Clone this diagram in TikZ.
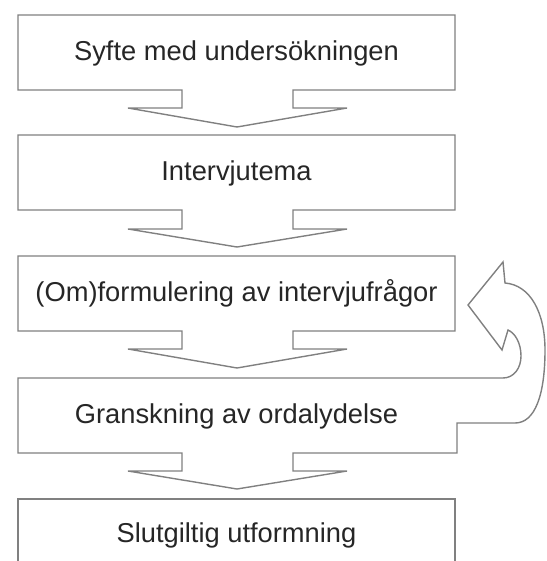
\documentclass[tikz,border=0pt]{standalone}
\usepackage{fontspec}
\setmainfont{Liberation Sans}
\tikzset{
  outline/.style={draw=black!50, line width=1.4pt, line join=miter},
  label/.style={anchor=base, inner sep=0pt, text=black!85, font=\fontsize{27.3}{32}\selectfont},
}
\begin{document}
\begin{tikzpicture}[x=1pt,y=-1pt]
\useasboundingbox (0,0) rectangle (546,561);
% box 1 with down arrow
\draw[outline] (18,15) -- (455,15) -- (455,90) -- (293,90) -- (293,108) -- (347,108)
  -- (237,127) -- (128,108) -- (182,108) -- (182,90) -- (18,90) -- cycle;
% box 2
\draw[outline] (18,135) -- (455,135) -- (455,210) -- (293,210) -- (293,229) -- (347,229)
  -- (237,247) -- (128,229) -- (182,229) -- (182,210) -- (18,210) -- cycle;
% box 3
\draw[outline] (18,256) -- (455,256) -- (455,331) -- (293,331) -- (293,349) -- (347,349)
  -- (237,368) -- (128,349) -- (182,349) -- (182,331) -- (18,331) -- cycle;
% box 4 with U-turn arrow and down arrow
\draw[outline] (18,378) -- (503,378)
  .. controls (514,378) and (521,368) .. (521,356)
  .. controls (521,343) and (515,333) .. (508,330)
  -- (502,350) -- (468,305) -- (503,262) -- (505,283)
  .. controls (530,285) and (545,312) .. (545,350)
  .. controls (545,395) and (535,423) .. (515,423)
  -- (457,423) -- (457,453) -- (293,453) -- (293,471) -- (347,471)
  -- (237,489) -- (128,471) -- (182,471) -- (182,453) -- (18,453) -- cycle;
% box 5 (cut off at bottom)
\draw[outline] (18,565) -- (18,499) -- (455,499) -- (455,565);
% labels
\node[label] (t1) at (236.5,61) {Syfte med undersökningen};
\node[label] (t2) at (236.5,181) {Intervjutema};
\node[label] (t3) at (236.5,301) {(Om)formulering av intervjufrågor};
\node[label] (t4) at (236.5,423) {Granskning av ordalydelse};
\node[label] (t5) at (236.5,542) {Slutgiltig utformning};
\end{tikzpicture}
\end{document}
